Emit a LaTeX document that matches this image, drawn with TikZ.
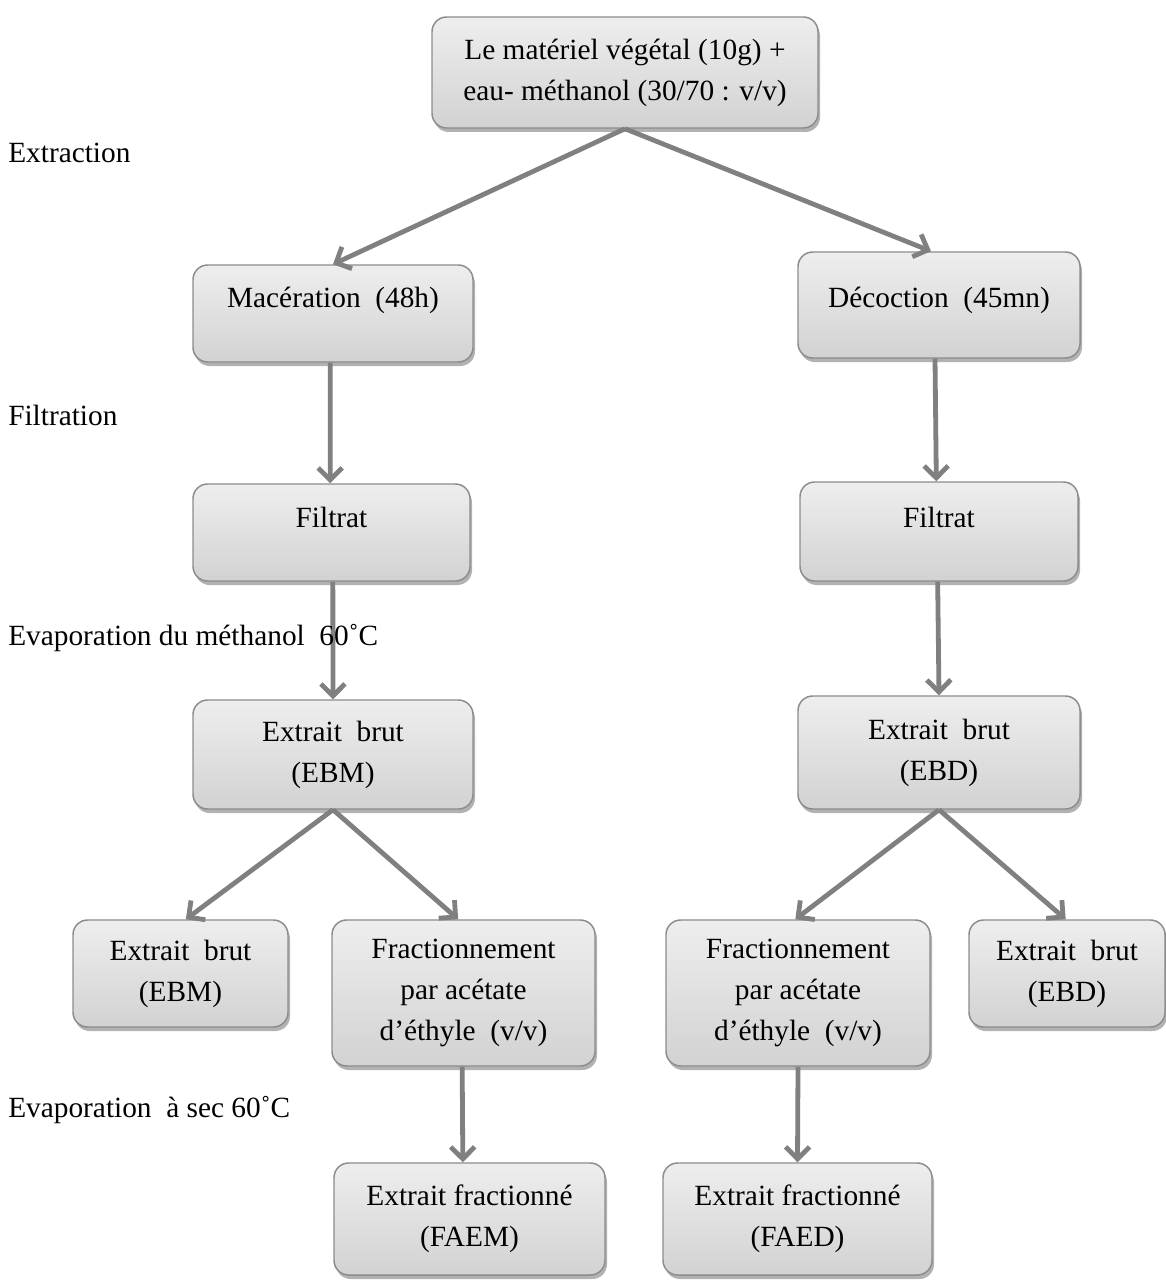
\documentclass[tikz,border=0pt]{standalone}
\usepackage{fontspec}
\setmainfont{Liberation Serif}
\usetikzlibrary{arrows.meta,shadows}
\definecolor{boxborder}{HTML}{8C8C8C}
\definecolor{boxtop}{HTML}{EEEEEE}
\definecolor{boxbot}{HTML}{D2D2D2}
\definecolor{arrgray}{HTML}{808080}
\tikzset{
  box/.style={draw=boxborder, line width=1.1pt, rounded corners=11pt,
    top color=boxtop, bottom color=boxbot, align=center, inner sep=0pt,
    font=\fontsize{22}{30.75}\selectfont, text=black,
    drop shadow={shadow xshift=1.5pt, shadow yshift=-3pt, opacity=0.3, fill=black}},
  arr/.style={draw=arrgray, line width=3.6pt,
    -{Straight Barb[length=9pt,width=18pt]}},
  steplabel/.style={anchor=base west, inner sep=0pt, font=\fontsize{22}{30.75}\selectfont}
}
\begin{document}
\begin{tikzpicture}[x=0.75pt,y=-0.75pt]
\useasboundingbox (0,0) rectangle (1165,1280);
% boxes
\node[box, minimum width=289.5pt, minimum height=83.25pt] (top) at (625,72.5)
  {Le matériel végétal (10g) +\\eau- méthanol (30/70 : v/v)};
\node[box, minimum width=210pt, minimum height=72.75pt, text depth=25pt] (mac) at (333,313.5)
  {Macération~ (48h)};
\node[box, minimum width=211.5pt, minimum height=79.5pt, text depth=12pt] (dec) at (939,305)
  {Décoction~ (45mn)};
\node[box, minimum width=207.75pt, minimum height=72.75pt, text depth=23pt] (filL) at (331.5,532.5)
  {Filtrat};
\node[box, minimum width=208.5pt, minimum height=74.25pt, text depth=22pt] (filR) at (939,531.5)
  {Filtrat};
\node[box, minimum width=210pt, minimum height=81.75pt] (ebm) at (333,754.5)
  {Extrait~ brut\\(EBM)};
\node[box, minimum width=211.5pt, minimum height=84.75pt] (ebd) at (939,752.5)
  {Extrait~ brut\\(EBD)};
\node[box, minimum width=161.25pt, minimum height=80.25pt] (ebmB) at (180.5,973.5)
  {Extrait~ brut\\(EBM)};
\node[box, minimum width=197.25pt, minimum height=109.5pt] (fracL) at (463.5,993)
  {Fractionnement\\par acétate\\d’éthyle~ (v/v)};
\node[box, minimum width=198pt, minimum height=109.5pt] (fracR) at (798,993)
  {Fractionnement\\par acétate\\d’éthyle~ (v/v)};
\node[box, minimum width=147pt, minimum height=80.25pt] (ebdB) at (1067,973.5)
  {Extrait~ brut\\(EBD)};
\node[box, minimum width=203.25pt, minimum height=84pt] (faem) at (469.5,1219)
  {Extrait fractionné\\(FAEM)};
\node[box, minimum width=201.75pt, minimum height=84pt] (faed) at (797.5,1219)
  {Extrait fractionné\\(FAED)};
% arrows
\draw[arr] (top.south) -- (mac.north);
\draw[arr] (top.south) -- ([xshift=-6pt]dec.north);
\draw[arr] ([xshift=-2pt]mac.south) -- ([xshift=-1pt]filL.north);
\draw[arr] ([xshift=-3pt]dec.south) -- ([xshift=-2pt]filR.north);
\draw[arr] ([xshift=1pt]filL.south) -- (ebm.north);
\draw[arr] ([xshift=-1pt]filR.south) -- (ebd.north);
\draw[arr] (ebm.south) -- ([xshift=4pt]ebmB.north);
\draw[arr] (ebm.south) -- ([xshift=-4pt]fracL.north);
\draw[arr] (ebd.south) -- ([xshift=-2pt]fracR.north);
\draw[arr] (ebd.south) -- ([xshift=-1pt]ebdB.north);
\draw[arr] ([xshift=-1pt]fracL.south) -- ([xshift=-5pt]faem.north);
\draw[arr] (fracR.south) -- (faed.north);
% step labels
\node[steplabel] (l1) at (8,163) {Extraction};
\node[steplabel] (l2) at (8,425) {Filtration};
\node[steplabel] (l3) at (8,645) {Evaporation du méthanol~ 60˚C};
\node[steplabel] (l4) at (8,1117) {Evaporation~ à sec 60˚C};
\end{tikzpicture}
\end{document}
